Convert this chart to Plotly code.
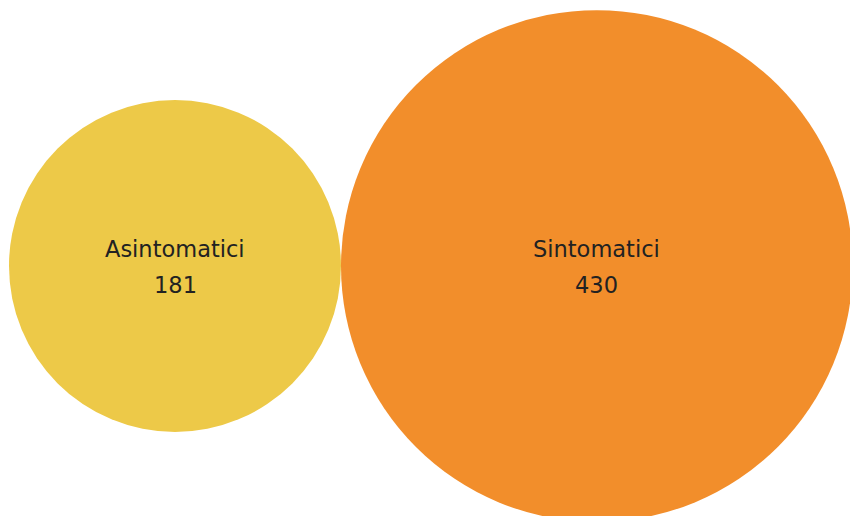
import math
import plotly.graph_objects as go

# Data
categories = ["Asintomatici", "Sintomatici"]
values = [181, 430]
colors = ["#EDC948", "#F28E2B"]

# Layout (pixel space)
W, H = 850, 516
r_small = 166          # pixel radius of the smallest bubble
# plotly area mode: diameter = sqrt(2 * v / sizeref)
sizeref = 2 * values[0] / (2 * r_small) ** 2
radii = [math.sqrt(2 * v / sizeref) / 2 for v in values]
left_pad = 9
cy = 266
xs = []
cursor = left_pad
for r in radii:
    xs.append(cursor + r)
    cursor += 2 * r
ys = [cy] * len(values)

fig = go.Figure()
fig.add_trace(go.Scatter(
    x=xs, y=ys, mode="markers",
    marker=dict(size=values, sizemode="area", sizeref=sizeref,
                color=colors, opacity=1, line=dict(width=0)),
    hoverinfo="text",
    text=[f"{c}: {v}" for c, v in zip(categories, values)],
    cliponaxis=True,
))

font = dict(family="'DejaVu Sans', sans-serif", size=22.5, color="#222222")
for x, y, c, v in zip(xs, ys, categories, values):
    fig.add_annotation(x=x, y=y, text=c, showarrow=False, font=font,
                       yshift=17, xanchor="center", yanchor="middle")
    fig.add_annotation(x=x, y=y, text=str(v), showarrow=False, font=font,
                       yshift=-19, xanchor="center", yanchor="middle")

fig.update_layout(
    width=W, height=H,
    margin=dict(l=0, r=0, t=0, b=0),
    paper_bgcolor="white", plot_bgcolor="white",
    showlegend=False,
    xaxis=dict(range=[0, W], visible=False, fixedrange=True),
    yaxis=dict(range=[H, 0], visible=False, fixedrange=True),
)

fig.write_html("out.html", config={"displayModeBar": False},
               post_script="document.body.style.margin='0';document.body.style.overflow='hidden';")
